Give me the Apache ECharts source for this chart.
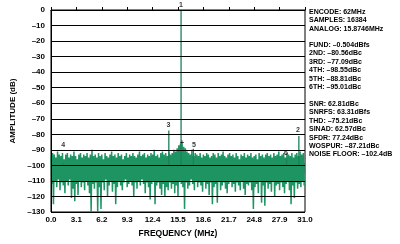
<!DOCTYPE html>
<html><head><meta charset="utf-8">
<script src="https://cdn.jsdelivr.net/npm/echarts@6/dist/echarts.min.js"></script>
<style>html,body{margin:0;padding:0;background:#fff}#c{width:400px;height:244px}</style>
</head><body><div id="c"></div>
<script>
// Noise floor envelope, one bin every 0.2 MHz from 0 to 30.8 MHz (dBFS)
var binStep = 0.2;
var noiseUpper = [
-94,-92,-93,-95,-91,-93,-94,-92,-96,-93,
-92,-95,-93,-94,-91,-94,-96,-93,-92,-95,
-93,-94,-92,-95,-93,-90,-94,-93,-95,-92,
-94,-93,-96,-92,-94,-95,-93,-91,-94,-93,
-95,-92,-94,-93,-96,-94,-92,-95,-93,-94,
-92,-94,-95,-93,-91,-94,-93,-92,-95,-93,
-94,-92,-93,-90,-94,-93,-95,-92,-91,-93,
-92,-94,-91,-93,-92,-90,-91,-89,-87,-86,
-86,-88,-89,-91,-92,-93,-90,-94,-92,-93,
-94,-92,-95,-93,-94,-92,-93,-95,-94,-92,
-93,-95,-92,-94,-93,-91,-94,-95,-93,-92,
-94,-93,-95,-92,-94,-96,-93,-94,-92,-95,
-93,-94,-92,-95,-94,-93,-96,-92,-94,-93,
-95,-93,-92,-94,-93,-95,-92,-94,-93,-91,
-94,-93,-92,-95,-92,-93,-94,-92,-95,-93,
-92,-94,-91,-93,-92
];
var noiseLower = [
-112,-125,-110,-114,-109,-116,-111,-113,-118,-110,
-113,-109,-121,-115,-123,-112,-119,-110,-114,-111,
-116,-110,-113,-118,-130,-112,-115,-111,-130,-114,
-128,-111,-116,-109,-120,-113,-110,-117,-112,-125,
-114,-110,-113,-116,-111,-109,-114,-112,-110,-113,
-120,-111,-115,-110,-113,-109,-112,-118,-111,-114,
-122,-112,-110,-125,-113,-111,-115,-119,-112,-120,
-114,-116,-111,-115,-112,-118,-113,-120,-110,-112,
-114,-128,-111,-115,-113,-109,-112,-116,-110,-114,
-111,-113,-117,-110,-115,-112,-119,-111,-125,-114,
-112,-124,-110,-116,-113,-111,-115,-118,-112,-110,
-114,-112,-117,-111,-113,-116,-110,-115,-119,-112,
-113,-111,-116,-128,-114,-112,-118,-110,-124,-113,
-126,-111,-115,-112,-117,-110,-120,-113,-112,-116,
-111,-114,-118,-112,-110,-116,-125,-113,-121,-111,
-115,-112,-114,-110,-113
];
// Fundamental and harmonics (MHz, dBFS)
var toneFreq  = [15.8746, 30.25, 14.38, 1.5, 17.37, 28.75];
var toneLevel = [-0.5, -81.1, -77.6, -99, -89.3, -95.5];
// Marker labels
var markText  = ['1', '2', '3', '4', '5', '6', '+'];
var markFreq  = [15.87, 30.15, 14.33, 1.5, 17.45, 28.68, 15.98];
var markLevel = [3, -77.5, -74, -86.7, -86.7, -92, -85.6];
// Axis ticks
var xTicks = [0, 3.1, 6.2, 9.3, 12.4, 15.5, 18.6, 21.7, 24.8, 27.9, 31.0];
var yMin = -130, yMax = 0, yStep = 10;
// Side annotations
var infoBlock1 = ['ENCODE: 62MHz', 'SAMPLES: 16384', 'ANALOG: 15.8746MHz'];
var infoBlock2 = ['FUND: –0.504dBfs', '2ND: –80.56dBc', '3RD: –77.09dBc', '4TH: –98.55dBc', '5TH: –88.81dBc', '6TH: –95.01dBc'];
var infoBlock3 = ['SNR: 62.81dBc', 'SNRFS: 63.31dBfs', 'THD: –75.21dBc', 'SINAD: 62.57dBc', 'SFDR: 77.24dBc', 'WOSPUR: –87.21dBc', 'NOISE FLOOR: –102.4dB'];

var noiseData = [];
for (var i = 0; i < noiseUpper.length; i++) {
  noiseData.push([+(i * binStep).toFixed(3), noiseUpper[i]]);
  noiseData.push([+(i * binStep + binStep / 2).toFixed(3), noiseLower[i]]);
}
var toneData = [];
for (var j = 0; j < toneFreq.length; j++) {
  toneData.push([toneFreq[j], -100]);
  toneData.push([toneFreq[j], toneLevel[j]]);
  toneData.push([toneFreq[j], -100]);
  toneData.push(null);
}
var markData = markText.map(function (t, k) { return { name: t, value: [markFreq[k], markLevel[k]] }; });

var F = 'Arial, "Liberation Sans", sans-serif';
var chart = echarts.init(document.getElementById('c'), null, { renderer: 'canvas' });
function infoText(lines, top) {
  return { type: 'text', left: 309, top: top, z: 10,
    style: { text: lines.join('\n'), font: 'bold 7px ' + F, fill: '#000', lineHeight: 8.4 } };
}
chart.setOption({
  animation: false,
  backgroundColor: '#fff',
  grid: { left: 51, top: 10, width: 254, height: 202, show: true, borderColor: '#000', borderWidth: 1, backgroundColor: 'transparent' },
  xAxis: {
    type: 'value', min: 0, max: 31, interval: 3.1, z: 5,
    name: 'FREQUENCY (MHz)', nameLocation: 'middle', nameGap: 17,
    nameTextStyle: { fontFamily: F, fontWeight: 'bold', fontSize: 8.5, color: '#000' },
    axisLine: { lineStyle: { color: '#000', width: 1 } },
    axisTick: { inside: true, length: 3, lineStyle: { color: '#000' } },
    axisLabel: { fontFamily: F, fontWeight: 'bold', fontSize: 8, color: '#000', margin: 4,
      formatter: function (v) { return v.toFixed(1); } },
    splitLine: { show: false }
  },
  yAxis: {
    type: 'value', min: yMin, max: yMax, interval: yStep, z: 5,
    name: 'AMPLITUDE (dB)', nameLocation: 'middle', nameGap: 33, nameRotate: 90,
    nameTextStyle: { fontFamily: F, fontWeight: 'bold', fontSize: 8, color: '#000' },
    axisLine: { show: true, lineStyle: { color: '#000', width: 1 } },
    axisTick: { show: false },
    axisLabel: { fontFamily: F, fontWeight: 'bold', fontSize: 8, color: '#000', margin: 6,
      formatter: function (v) { return v < 0 ? '–' + (-v) : '' + v; } },
    splitLine: { show: true, lineStyle: { color: '#000', width: 1 } }
  },
  series: [
    { type: 'line', data: noiseData, symbol: 'none', z: 2, clip: true,
      lineStyle: { color: '#1f9463', width: 1.5 } },
    { type: 'line', data: toneData, symbol: 'none', z: 3, connectNulls: false,
      lineStyle: { color: '#1e8056', width: 1.3 },
      markArea: { silent: true, itemStyle: { color: 'rgba(18,100,64,0.5)' },
        data: [[{ coord: [0, -98.5] }, { coord: [31, -105] }]] } },
    { type: 'scatter', data: markData, symbolSize: 0, z: 6, clip: false,
      label: { show: true, position: 'inside', formatter: '{b}', fontFamily: F, fontWeight: 'bold', fontSize: 7, color: '#000' } }
  ],
  graphic: [ infoText(infoBlock1, 7.8), infoText(infoBlock2, 40.8), infoText(infoBlock3, 99.8) ]
});
</script></body></html>
